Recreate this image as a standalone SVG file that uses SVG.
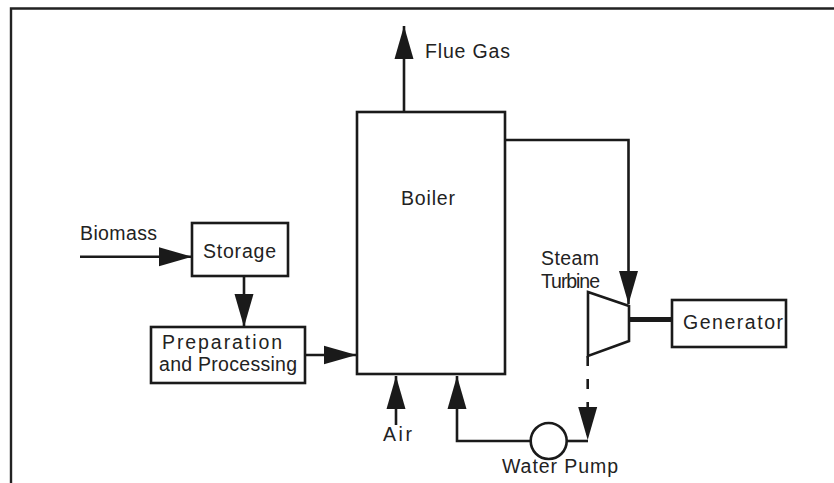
<svg xmlns="http://www.w3.org/2000/svg" width="834" height="483" viewBox="0 0 834 483">
<style>
.s{fill:none;stroke:#1a1a1a;stroke-width:2.6}
.b{fill:#fff;stroke:#1a1a1a;stroke-width:2.6}
.t{font-family:"Liberation Sans",Arial,sans-serif;font-size:19.5px;fill:#222}
.f{fill:none;stroke:#222;stroke-width:2.4}
</style>
<defs>
<marker id="ah" markerUnits="userSpaceOnUse" markerWidth="34" markerHeight="21" refX="33" refY="10" orient="auto">
<path d="M0,0.5 L33,10 L0,19.5 z" fill="#1a1a1a"/>
</marker>
</defs>
<rect width="834" height="483" fill="#fff"/>
<g id="frame">
<path class="f" d="M11,483 V8.5 H834"/>
</g>
<g id="connectors">
<path class="s" d="M404,112 V26" marker-end="url(#ah)"/>
<path class="s" d="M80,256.7 H192" marker-end="url(#ah)"/>
<path class="s" d="M244,276 V327" marker-end="url(#ah)"/>
<path class="s" d="M305,355 H356.5" marker-end="url(#ah)"/>
<path class="s" d="M396,425 V376" marker-end="url(#ah)"/>
<path class="s" d="M530.7,441 H457 V376" marker-end="url(#ah)"/>
<path class="s" d="M505,140 H628.5 V304" marker-end="url(#ah)"/>
<path class="s" d="M587.7,356 V440" stroke-dasharray="10 13" marker-end="url(#ah)"/>
<path class="s" d="M566.7,441 H588"/>
<path fill="none" stroke="#1a1a1a" stroke-width="5" d="M629,319.5 H672"/>
</g>
<g id="flue-gas"><text class="t" x="425" y="58" textLength="85" lengthAdjust="spacing">Flue Gas</text></g>
<g id="biomass"><text class="t" x="80" y="240" textLength="77" lengthAdjust="spacing">Biomass</text></g>
<g id="storage">
<rect class="b" x="192" y="223" width="96" height="53"/>
<text class="t" x="203" y="258" textLength="73" lengthAdjust="spacing">Storage</text>
</g>
<g id="preparation">
<rect class="b" x="151" y="327" width="154" height="56"/>
<text class="t" x="162" y="349" textLength="120" lengthAdjust="spacing">Preparation</text>
<text class="t" x="159" y="371" textLength="138" lengthAdjust="spacing">and Processing</text>
</g>
<g id="boiler">
<rect class="b" x="357" y="112" width="148" height="262"/>
<text class="t" x="401" y="205" textLength="54" lengthAdjust="spacing">Boiler</text>
</g>
<g id="air"><text class="t" x="383" y="441" textLength="29" lengthAdjust="spacing">Air</text></g>
<g id="water-pump">
<circle class="b" cx="548.7" cy="441" r="18"/>
<text class="t" x="502" y="473" textLength="116" lengthAdjust="spacing">Water Pump</text>
</g>
<g id="steam-turbine">
<polygon class="b" points="588,292 629,306 629,341 588,356"/>
<text class="t" x="541" y="265" textLength="58" lengthAdjust="spacing">Steam</text>
<text class="t" x="541" y="288" textLength="59" lengthAdjust="spacing">Turbine</text>
</g>
<g id="generator">
<rect class="b" x="672" y="300" width="114" height="47"/>
<text class="t" x="683" y="329" textLength="100" lengthAdjust="spacing">Generator</text>
</g>
</svg>
